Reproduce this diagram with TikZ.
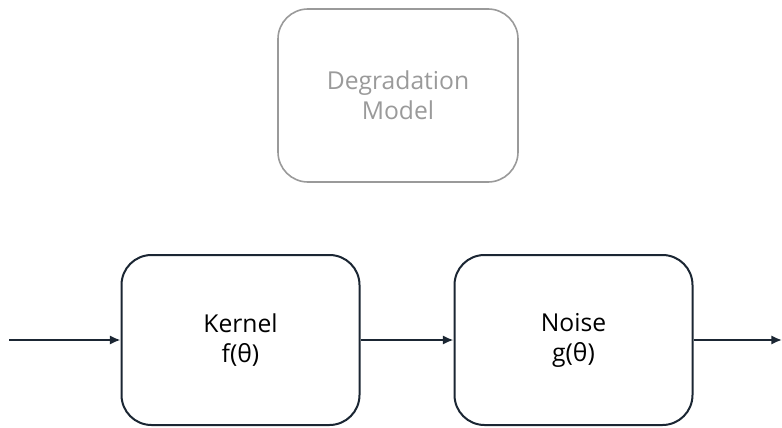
\documentclass[tikz,border=0pt]{standalone}
\usepackage{fontspec}
\setmainfont{Open Sans}
\usetikzlibrary{arrows.meta}
\definecolor{ink}{HTML}{1B2633}
\definecolor{faint}{HTML}{9A9A9A}
\begin{document}
\begin{tikzpicture}[x=0.75pt,y=-0.75pt,
  block/.style={draw=ink, line width=1.5pt, rounded corners=22.5pt, minimum width=178.5pt, minimum height=127.5pt, align=center, font=\fontsize{18.5}{22.5}\selectfont, text=black},
  ghost/.style={block, draw=faint, text=faint, line width=1.2pt, minimum width=180pt, minimum height=129.75pt},
  flow/.style={draw=ink, line width=1.5pt, -{Latex[length=8pt,width=7pt]}}]
  \useasboundingbox (0,0) rectangle (782,428);
  % overall model label box
  \node[ghost] (model) at (398,95.5) {Degradation\\Model};
  % processing chain
  \node[block] (kernel) at (240.5,340) {Kernel\\f(θ)};
  \node[block] (noise) at (573.5,340) {Noise\\g(θ)};
  \coordinate (in) at (9,340);
  \coordinate (out) at (782,340);
  \draw[flow] (in) -- (kernel);
  \draw[flow] (kernel) -- (noise);
  \draw[flow] (noise) -- (out);
\end{tikzpicture}
\end{document}
